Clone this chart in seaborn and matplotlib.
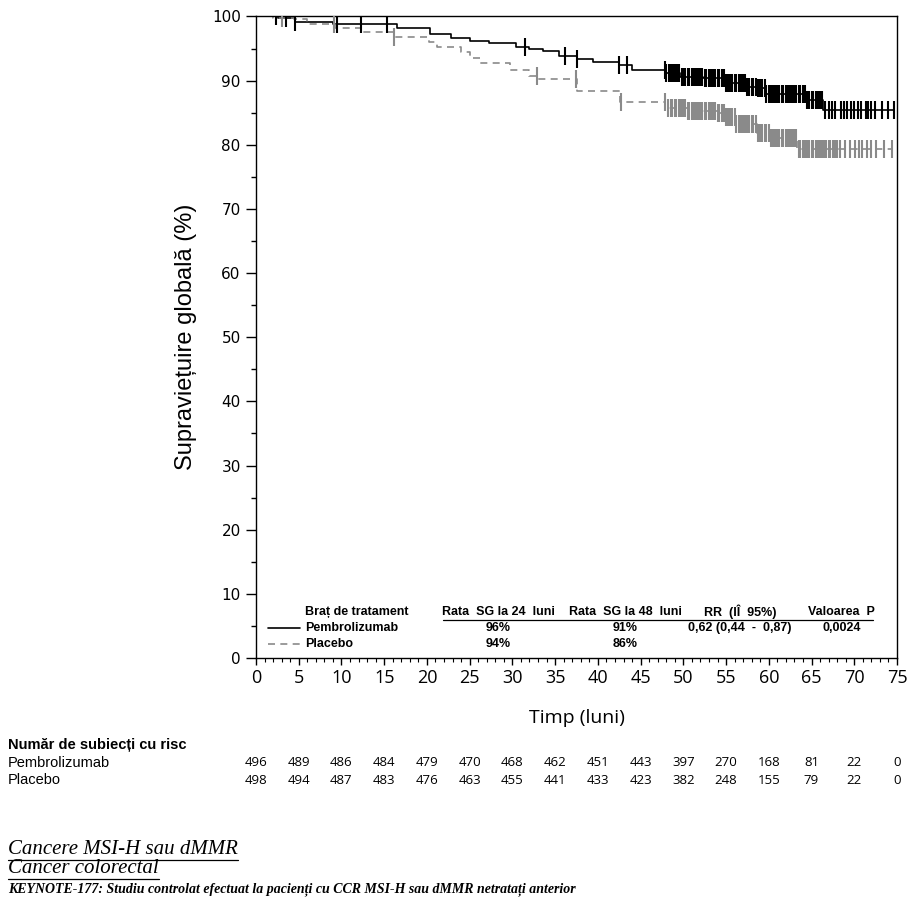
import numpy as np
import matplotlib
matplotlib.use("Agg")
import matplotlib.pyplot as plt
import matplotlib.transforms as mtransforms
from matplotlib.ticker import MultipleLocator
import seaborn as sns

# Kaplan-Meier steps (months, % alive after the step)
pembro_t = [0, 2.6, 4.6, 9.0, 16.5, 20.4, 22.8, 25.0, 27.3, 30.4, 32.0, 33.6, 35.5, 37.6,
            39.4, 42.5, 44.0, 48.0, 49.6, 52.3, 55.0, 57.4, 58.6, 59.7, 64.4, 66.4]
pembro_s = [100, 99.8, 99.2, 98.8, 98.2, 97.2, 96.6, 96.2, 95.8, 95.2, 94.9, 94.6, 93.9, 93.3,
            92.9, 92.4, 91.6, 91.2, 90.6, 90.4, 89.6, 89.0, 88.8, 87.9, 87.0, 85.4]
pembro_end = 74.6

placebo_t = [0, 2.0, 4.5, 6.0, 9.3, 12.3, 16.2, 20.2, 21.2, 24.0, 25.0, 26.2, 29.7, 32.0,
             33.0, 37.5, 42.6, 47.9, 50.5, 54.0, 55.0, 56.2, 58.6, 60.1, 63.3]
placebo_s = [100, 99.8, 99.6, 98.8, 98.2, 97.6, 96.8, 96.0, 95.2, 94.4, 93.6, 92.7, 91.7, 90.7,
             90.2, 88.4, 86.6, 85.8, 85.3, 84.9, 84.4, 83.2, 81.8, 81.0, 79.3]
placebo_end = 74.4

# censoring times
pembro_cens = [2.3, 3.5, 4.6, 9.5, 12.3, 15.3, 31.5, 36.1, 37.6, 42.5, 43.4,
               47.8, 48.0, 48.3, 48.5, 48.8, 49.0, 49.3, 49.5, 49.8, 50.0, 50.2, 50.5, 50.7,
               51.0, 51.2, 51.5, 51.7, 52.0, 52.2, 52.5, 52.7, 53.0, 53.2, 53.5, 53.7, 54.0,
               54.2, 54.5, 54.7, 55.0, 55.2, 55.5, 55.7, 56.0, 56.2, 56.5, 56.7, 57.0, 57.2,
               57.5, 57.7, 58.0, 58.2, 58.5, 58.7, 59.0, 59.2, 59.5, 59.7, 60.0, 60.2, 60.5,
               60.7, 61.0, 61.2, 61.5, 61.7, 62.0, 62.2, 62.5, 62.7, 63.0, 63.2, 63.5, 63.7,
               64.0, 64.2, 64.5, 64.7, 65.0, 65.2, 65.5, 65.7, 66.0, 66.2,
               66.6, 67.0, 67.4, 67.8, 68.4, 68.8, 69.2, 69.6, 70.0, 70.4, 70.8, 71.4, 71.6,
               72.0, 72.4, 73.2, 74.0, 74.6]
placebo_cens = [3.0, 9.1, 16.2, 32.9, 37.4, 42.7, 47.8,
                48.2, 48.5, 48.7, 49.0, 49.2, 49.5, 49.7, 50.0, 50.2, 50.5, 50.7, 51.0, 51.2,
                51.5, 51.7, 52.0, 52.2, 52.5, 52.7, 53.0, 53.2, 53.5, 53.7, 54.0, 54.2, 54.5,
                54.7, 55.0, 55.2, 55.5, 55.7, 56.0, 56.2, 56.5, 56.7, 57.0, 57.2, 57.5, 57.7,
                58.0, 58.2, 58.5, 58.7, 59.0, 59.2, 59.5, 59.7, 60.0, 60.2, 60.5, 60.7, 61.0,
                61.2, 61.5, 61.7, 62.0, 62.2, 62.5, 62.7, 63.0, 63.2, 63.5, 63.7, 64.0, 64.2,
                64.5, 64.7, 65.0, 65.2, 65.5, 65.7, 66.0, 66.2, 66.5, 66.7, 67.0, 67.2, 67.5,
                67.7, 68.0, 68.3, 68.9, 69.5, 70.1, 70.5, 70.9, 71.5, 71.9, 72.5, 73.5, 74.4]

# number at risk
risk_times = [0, 5, 10, 15, 20, 25, 30, 35, 40, 45, 50, 55, 60, 65, 70, 75]
risk_pembro = [496, 489, 486, 484, 479, 470, 468, 462, 451, 443, 397, 270, 168, 81, 22, 0]
risk_placebo = [498, 494, 487, 483, 476, 463, 455, 441, 433, 423, 382, 248, 155, 79, 22, 0]

# summary table inside the plot
table_header = ["Braț de tratament", "Rata  SG la 24  luni", "Rata  SG la 48  luni",
                "RR  (IÎ  95%)", "Valoarea  P"]
table_pembro = ["Pembrolizumab", "96%", "91%", "0,62 (0,44  -  0,87)", "0,0024"]
table_placebo = ["Placebo", "94%", "86%", "", ""]

BLACK = "#000000"
GREY = "#8a8a8a"

sns.set_style("ticks")
plt.rcParams["font.family"] = ["DejaVu Sans"]
plt.rcParams["text.color"] = BLACK
plt.rcParams["axes.labelcolor"] = BLACK
plt.rcParams["xtick.color"] = BLACK
plt.rcParams["ytick.color"] = BLACK
NARROW = ["Liberation Sans Narrow", "Liberation Sans", "DejaVu Sans"]

fig = plt.figure(figsize=(9.17, 8.97), dpi=100)
ax = fig.add_axes([256 / 917, 1 - 658 / 897, 641 / 917, 641.5 / 897])


def km_at(times, surv, pts):
    idx = np.searchsorted(times, pts, side="right") - 1
    return np.asarray(surv)[idx]


for t, s, end, cens, col, ls in [
    (pembro_t, pembro_s, pembro_end, pembro_cens, BLACK, "-"),
    (placebo_t, placebo_s, placebo_end, placebo_cens, GREY, (0, (4.2, 3.2))),
]:
    xs = list(t) + [end]
    ys = list(s) + [s[-1]]
    sns.lineplot(x=xs, y=ys, drawstyle="steps-post", estimator=None, sort=False,
                 color=col, linewidth=1.2, linestyle=ls, ax=ax)
    sns.scatterplot(x=cens, y=km_at(t, s, cens), marker="|", s=170, linewidth=1.5,
                    color=col, ax=ax, zorder=3)

ax.set_xlim(0, 75)
ax.set_ylim(0, 100)
ax.xaxis.set_major_locator(MultipleLocator(5))
ax.xaxis.set_minor_locator(MultipleLocator(1))
ax.yaxis.set_major_locator(MultipleLocator(10))
ax.yaxis.set_minor_locator(MultipleLocator(5))
ax.tick_params(axis="y", which="major", length=7, width=1, labelsize=11, pad=4)
ax.tick_params(axis="y", which="minor", length=3.5, width=1)
ax.tick_params(axis="x", which="major", length=5, width=1, labelsize=13, pad=3)
ax.tick_params(axis="x", which="minor", length=3, width=0.8)
for lab in ax.get_xticklabels():
    lab.set_family(["Open Sans", "DejaVu Sans"])
for sp in ax.spines.values():
    sp.set_linewidth(1.0)
    sp.set_color("black")

ax.set_ylabel("Supraviețuire globală (%)", fontsize=17, family=["Liberation Sans"], labelpad=11)
ax.set_xlabel("Timp (luni)", fontsize=14, family=["Open Sans", "DejaVu Sans"], labelpad=16)

# summary table
col_x = [0.0764, 0.3775, 0.5757, 0.755, 0.914]
row_y = [0.0717, 0.0468, 0.0218]
for j, rows in enumerate([table_header, table_pembro, table_placebo]):
    for i, txt in enumerate(rows):
        ax.text(col_x[i], row_y[j], txt, transform=ax.transAxes, fontsize=9,
                fontweight="bold", family=NARROW, ha="left" if i == 0 else "center",
                va="center")
ax.plot([0.2917, 0.9626], [0.0592, 0.0592], transform=ax.transAxes, color=BLACK, lw=0.9)
ax.plot([0.019, 0.069], [row_y[1], row_y[1]], transform=ax.transAxes, color=BLACK, lw=1.2)
ax.plot([0.019, 0.069], [row_y[2], row_y[2]], transform=ax.transAxes, color=GREY, lw=1.2,
        linestyle=(0, (4.2, 3.2)))

# number at risk
blend = mtransforms.blended_transform_factory(ax.transData, fig.transFigure)
fig.text(0.0087, 1 - 745 / 897, "Număr de subiecți cu risc", fontsize=10.5,
         fontweight="bold", family=NARROW, va="center")
for label, vals, ypx in [("Pembrolizumab", risk_pembro, 763), ("Placebo", risk_placebo, 780)]:
    fig.text(0.0087, 1 - ypx / 897, label, fontsize=10.5, family=NARROW, va="center")
    for t, v in zip(risk_times, vals):
        ax.text(t, 1 - ypx / 897, str(v), transform=blend, fontsize=9.5,
                family=["Open Sans", "DejaVu Sans"], ha="center", va="center")

# footnote text below the chart
serif = ["Liberation Serif", "DejaVu Serif"]
t1 = fig.text(0.0087, 1 - 849 / 897, "Cancere MSI-H sau dMMR", fontsize=15, style="italic",
              family=serif, va="center")
t2 = fig.text(0.0087, 1 - 868 / 897, "Cancer colorectal", fontsize=15, style="italic",
              family=serif, va="center")
fig.text(0.0087, 1.5 / 897, "KEYNOTE-177: Studiu controlat efectuat la pacienți cu CCR MSI-H "
         "sau dMMR netratați anterior", fontsize=10, style="italic", fontweight="bold",
         family=serif, va="bottom")
fig.canvas.draw()
r = fig.canvas.get_renderer()
for tx, ypx in [(t1, 859.5), (t2, 878.5)]:
    bb = tx.get_window_extent(r)
    x0, x1 = bb.x0 / fig.bbox.width, bb.x1 / fig.bbox.width
    fig.add_artist(plt.Line2D([x0, x1], [1 - ypx / 897] * 2, color=BLACK, lw=0.9))

fig.savefig("out.png", dpi=100)
